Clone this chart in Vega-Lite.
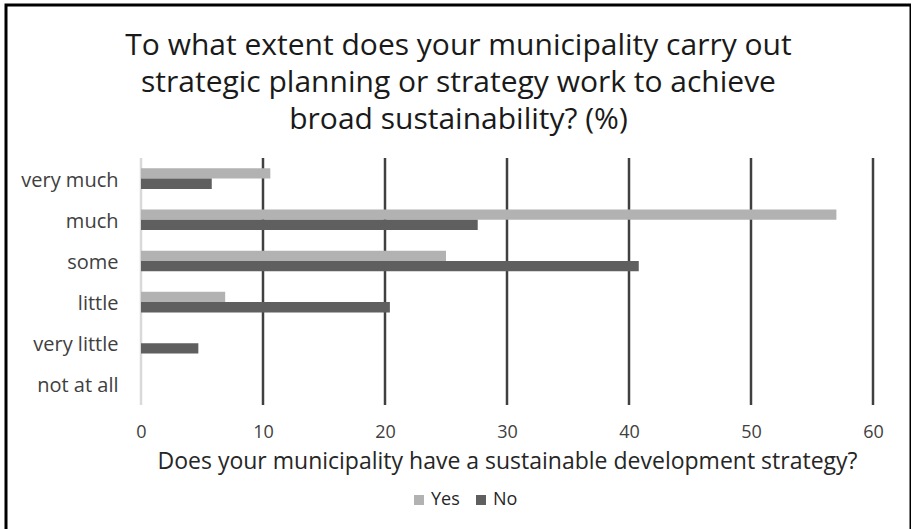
{
  "$schema": "https://vega.github.io/schema/vega-lite/v6.json",
  "width": 905,
  "height": 530,
  "autosize": {"type": "none"},
  "padding": {"left": 6, "top": 5, "right": 0, "bottom": 0},
  "background": "white",
  "config": {
    "font": "Open Sans",
    "view": {"stroke": "black", "strokeWidth": 3},
    "axis": {"labelColor": "#404040", "titleColor": "#262626", "labelFont": "Open Sans", "titleFont": "Open Sans", "titleFontWeight": "normal"}
  },
  "title": {
    "text": ["To what extent does your municipality carry out", "strategic planning or strategy work to achieve", "broad sustainability? (%)"],
    "fontSize": 30,
    "fontWeight": "normal",
    "color": "#1a1a1a",
    "lineHeight": 37,
    "frame": "group",
    "anchor": "middle",
    "offset": -130
  },
  "resolve": {"scale": {"y": "independent", "color": "independent"}, "axis": {"y": "independent"}},
  "layer": [
    {
      "data": {"values": [{"v": 0}, {"v": 10}, {"v": 20}, {"v": 30}, {"v": 40}, {"v": 50}, {"v": 60}]},
      "mark": {"type": "rule", "strokeWidth": 2.5},
      "encoding": {
        "x": {"field": "v", "type": "quantitative", "scale": {"domain": [0, 60], "range": [135, 867], "nice": false, "zero": true},
              "axis": {"values": [0, 10, 20, 30, 40, 50, 60], "orient": "bottom", "offset": -114, "domain": false, "ticks": false, "tickSize": 0, "grid": false, "labelFlush": false, "labelPadding": 2, "labelFontSize": 18, "title": "Does your municipality have a sustainable development strategy?", "titleFontSize": 23, "titlePadding": 9}},
        "y": {"datum": 0, "type": "quantitative", "scale": {"domain": [0, 1], "range": [153, 400]}, "axis": null},
        "y2": {"datum": 1},
        "color": {"condition": {"test": "datum.v === 0", "value": "#d9d9d9"}, "value": "#404040"}
      }
    },
    {
      "data": {"values": [
        {"level": "very much", "strategy": "Yes", "pct": 10.6},
        {"level": "very much", "strategy": "No", "pct": 5.8},
        {"level": "much", "strategy": "Yes", "pct": 57.0},
        {"level": "much", "strategy": "No", "pct": 27.6},
        {"level": "some", "strategy": "Yes", "pct": 25.0},
        {"level": "some", "strategy": "No", "pct": 40.8},
        {"level": "little", "strategy": "Yes", "pct": 6.9},
        {"level": "little", "strategy": "No", "pct": 20.4},
        {"level": "very little", "strategy": "Yes", "pct": 0},
        {"level": "very little", "strategy": "No", "pct": 4.7},
        {"level": "not at all", "strategy": "Yes", "pct": 0},
        {"level": "not at all", "strategy": "No", "pct": 0}
      ]},
      "mark": {"type": "bar"},
      "encoding": {
        "x": {"field": "pct", "type": "quantitative", "scale": {"domain": [0, 60], "range": [135, 867], "nice": false, "zero": true},
              "axis": {"values": [0, 10, 20, 30, 40, 50, 60], "orient": "bottom", "offset": -114, "domain": false, "ticks": false, "tickSize": 0, "grid": false, "labelFlush": false, "labelPadding": 2, "labelFontSize": 18, "title": "Does your municipality have a sustainable development strategy?", "titleFontSize": 23, "titlePadding": 9}},
        "y": {"field": "level", "type": "nominal",
              "sort": ["very much", "much", "some", "little", "very little", "not at all"],
              "scale": {"domain": ["very much", "much", "some", "little", "very little", "not at all"], "range": [153, 400], "paddingInner": 0.5, "paddingOuter": 0.25},
              "axis": {"title": null, "orient": "left", "offset": -114, "domain": false, "ticks": false, "tickSize": 0, "grid": false, "labelPadding": 2, "labelFontSize": 20, "labelOffset": 2}},
        "yOffset": {"field": "strategy", "type": "nominal", "sort": ["Yes", "No"], "scale": {"paddingInner": 0, "paddingOuter": 0}},
        "color": {"field": "strategy", "type": "nominal", "sort": ["Yes", "No"],
                  "scale": {"domain": ["Yes", "No"], "range": ["#b2b2b2", "#5f5f5f"]},
                  "legend": {"title": null, "orient": "none", "legendX": 404, "legendY": 486, "direction": "horizontal", "symbolType": "square", "symbolSize": 100, "symbolStrokeWidth": 0, "labelFontSize": 18, "labelColor": "#262626", "labelOffset": 3, "columnPadding": 12}}
      }
    }
  ]
}
